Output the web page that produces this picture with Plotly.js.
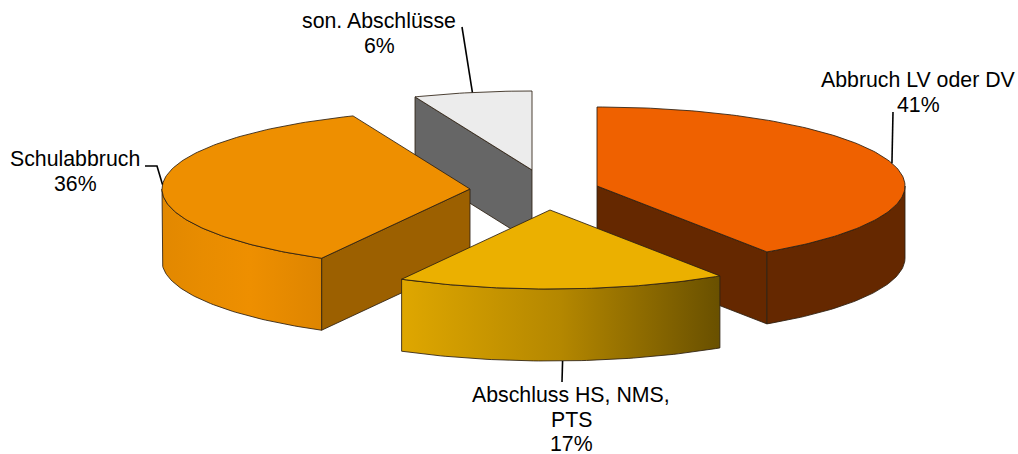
<!DOCTYPE html>
<html>
<head>
<meta charset="utf-8">
<script src="https://cdn.plot.ly/plotly-3.0.1.min.js"></script>
<style>html,body{margin:0;padding:0;background:#fff}#chart{width:1018px;height:454px}</style>
</head>
<body>
<div id="chart"></div>
<script>
// Data (clockwise from 12 o'clock)
var categories = ['Abbruch LV oder DV', 'Abschluss HS, NMS,<br>PTS', 'Schulabbruch', 'son. Abschlüsse'];
var shares = [40.7, 17.3, 35.8, 6.2];

// Exploded-slice apex of each slice, in the plot's axis units
var apexX = [597, 550, 470, 532];
var apexY = [186, 210, 189, 170];

// 3D projection of the pie
var RX = 308, RY = 79, DEPTH = 72;

// Styles
var topColors = ['#EF6100', '#EBB000', '#EE8F00', '#ECECEC'];
var faceColors = ['#652800', null, '#9C6000', '#666666'];
var rimScales = [
  [[0, '#652800'], [1, '#652800']],
  [[0, '#DFA700'], [0.5, '#B48700'], [1, '#695000']],
  [[0, '#E28800'], [0.25, '#E88C00'], [0.55, '#EE8F00'], [1, '#DE8500']],
  null
];
var edge = 'rgba(45,32,18,0.85)';

// label centre + first-line position + leader end, in axis units
var labelX = [918, 571, 75, 379];
var labelFirstY = [80, 395, 159, 21];
var labelLineGap = 24.5;
var leaderBend = [
  [[893, 112]],
  [[562, 382]],
  [[157, 166], [145, 166]],
  [[462, 27]]
];

function pt(i, deg, drop) {
  var a = deg * Math.PI / 180;
  return [apexX[i] + RX * Math.sin(a), apexY[i] - RY * Math.cos(a) + (drop || 0)];
}
function arc(i, from, to, drop) {
  var out = [], n = Math.max(2, Math.ceil(Math.abs(to - from)));
  for (var k = 0; k <= n; k++) out.push(pt(i, from + (to - from) * k / n, drop));
  return out;
}
function poly(points, extra) {
  var t = {
    type: 'scatter', mode: 'lines',
    x: points.map(function (p) { return p[0]; }),
    y: points.map(function (p) { return p[1]; }),
    fill: 'toself',
    line: {color: edge, width: 1},
    hoverinfo: 'skip', showlegend: false
  };
  for (var key in extra) t[key] = extra[key];
  return t;
}

var starts = [], ends = [], run = 0;
shares.forEach(function (v) { starts.push(run); run += v * 3.6; ends.push(run); });

function topFace(i) {
  var pts = [[apexX[i], apexY[i]]].concat(arc(i, starts[i], ends[i]));
  pts.push([apexX[i], apexY[i]]);
  return poly(pts, {fillcolor: topColors[i]});
}
function rim(i) {
  var a = Math.max(starts[i], 90), b = Math.min(ends[i], 270);
  var pts = arc(i, a, b).concat(arc(i, b, a, DEPTH));
  pts.push(pts[0]);
  return poly(pts, {fillcolor: topColors[i], fillgradient: {type: 'horizontal', colorscale: rimScales[i]}});
}
// Cut face running along the slice's radius at a given angle
function cutFace(i, deg) {
  var o = pt(i, deg), od = pt(i, deg, DEPTH);
  var pts = [[apexX[i], apexY[i]], o, od, [apexX[i], apexY[i] + DEPTH], [apexX[i], apexY[i]]];
  return poly(pts, {fillcolor: faceColors[i]});
}

var traces = [];
// Back to front: grey, red-orange, orange, yellow
traces.push(cutFace(3, starts[3]), topFace(3));
traces.push(cutFace(0, ends[0]), rim(0), topFace(0));
traces.push(cutFace(2, starts[2]), rim(2), topFace(2));
traces.push(rim(1), topFace(1));

// Leaders start at each slice's mid-angle on the rim
shares.forEach(function (v, i) {
  var mid = (starts[i] + ends[i]) / 2;
  var anchor = pt(i, mid, (mid > 90 && mid < 270) ? DEPTH : 0);
  var pts = [anchor].concat(leaderBend[i]);
  traces.push({
    type: 'scatter', mode: 'lines',
    x: pts.map(function (p) { return p[0]; }),
    y: pts.map(function (p) { return p[1]; }),
    line: {color: '#000', width: 1.6},
    hoverinfo: 'skip', showlegend: false
  });
});

var annotations = [];
categories.forEach(function (c, i) {
  var lines = c.split('<br>').concat([Math.round(shares[i]) + '%']);
  lines.forEach(function (line, k) {
    annotations.push({
      x: labelX[i], y: labelFirstY[i] + k * labelLineGap, xref: 'x', yref: 'y',
      text: line,
      showarrow: false, align: 'center', xanchor: 'center', yanchor: 'middle',
      font: {family: '"Liberation Sans", Arial, sans-serif', size: 21.3, color: '#000'}
    });
  });
});

var layout = {
  width: 1018, height: 454,
  margin: {l: 0, r: 0, t: 0, b: 0},
  paper_bgcolor: '#fff', plot_bgcolor: '#fff',
  showlegend: false,
  xaxis: {range: [0, 1018], visible: false, fixedrange: true},
  yaxis: {range: [454, 0], visible: false, fixedrange: true},
  annotations: annotations
};
Plotly.newPlot('chart', traces, layout, {displayModeBar: false, staticPlot: true});
</script>
</body>
</html>
